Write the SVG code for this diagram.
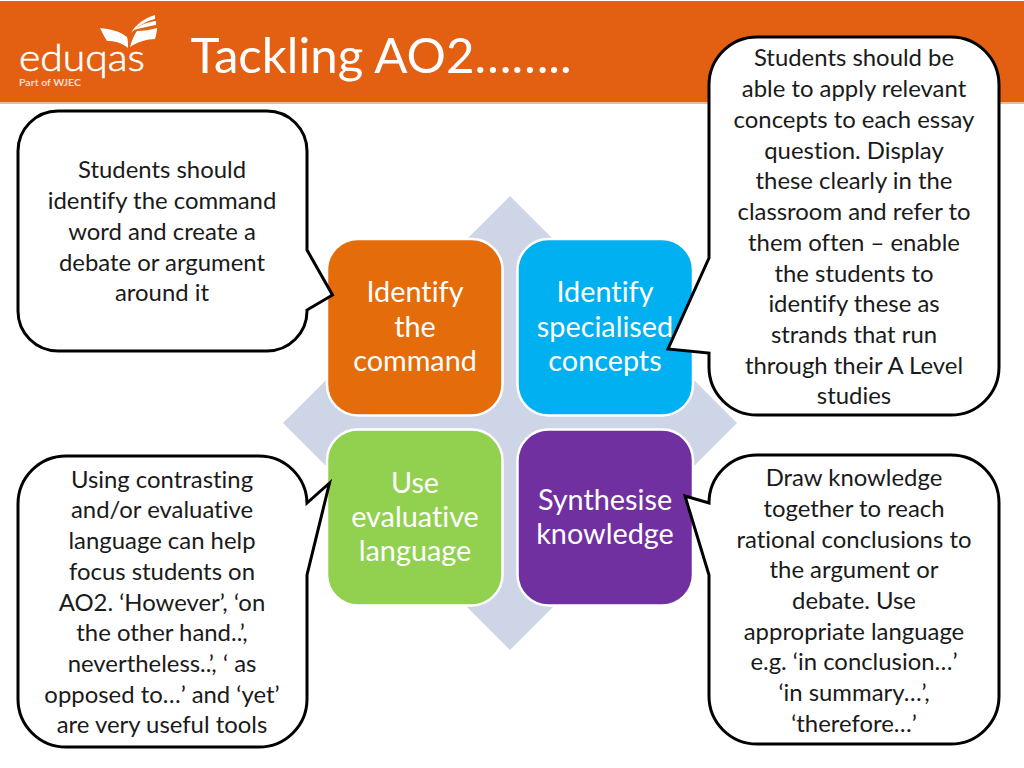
<svg xmlns="http://www.w3.org/2000/svg" width="1024" height="768" viewBox="0 0 1024 768">
<style>
text{font-family:Lato,"Liberation Sans",sans-serif;text-anchor:middle;font-variant-ligatures:none}
.c{fill:#fff;stroke:#000;stroke-width:3;stroke-linejoin:miter}
.ct{font-size:23.9px;fill:#1a1a1a}
.b{stroke:#fff;stroke-width:2.5}
.bt{font-size:28.800px;fill:#fff}
</style>
<rect width="1024" height="768" fill="#fff"/>
<g id="header">
<rect x="0" y="1" width="1024" height="101" fill="#e35f12"/>
<rect x="0" y="102" width="1024" height="2" fill="#e9b99a"/>
<text x="381" y="73" style="font-size:49.200px" fill="#fff">Tackling AO2……..</text>
</g>
<g id="logo" fill="#fff">
<path d="M100 28C110 29 120 31 127 37C128 40 128 44 128 48C121 42 114 41 107 41C104 36 102 32 100 28Z"/>
<path d="M130 47C132 40 134 35 137 31C143 31 151 30 157 28C157 32 156 35 155 39C147 39 137 42 130 47Z"/>
<path d="M131 33C136 24 145 18 155 15L155 19C146 21 138 26 131 33Z"/>
<path d="M134 30C140 25 147 22 156 21L156 25C149 26 141 28 134 30Z"/>
<text x="82" y="71" style="font-size:37px;font-weight:300" fill="#fff" stroke="#fff" stroke-width="0.6" textLength="126" lengthAdjust="spacingAndGlyphs">eduqas</text>
<text x="50" y="86" style="font-size:9px;font-weight:700" fill="#f9dcc8" textLength="62" lengthAdjust="spacingAndGlyphs">Part of WJEC</text>
</g>
<polygon id="diamond" points="510,196 737,423 510,650 283,423" fill="#cdd5e6"/>
<g id="identify-command">
<rect class="b" x="327" y="239" width="175.500" height="176.500" rx="31" fill="#e46c0a"/>
<text class="bt" x="415" y="302">Identify</text><text class="bt" x="415" y="337">the</text><text class="bt" x="415" y="371">command</text>
</g>
<g id="identify-concepts">
<rect class="b" x="517.500" y="239" width="175.500" height="176.500" rx="31" fill="#00b0f0"/>
<text class="bt" x="605" y="302">Identify</text><text class="bt" x="605" y="337">specialised</text><text class="bt" x="605" y="371">concepts</text>
</g>
<g id="use-language">
<rect class="b" x="327" y="429.500" width="175.500" height="176" rx="31" fill="#92d050"/>
<text class="bt" x="415" y="493">Use</text><text class="bt" x="415" y="527">evaluative</text><text class="bt" x="415" y="561">language</text>
</g>
<g id="synthesise">
<rect class="b" x="517.500" y="429.500" width="175.500" height="176" rx="31" fill="#7030a0"/>
<text class="bt" x="605" y="510">Synthesise</text><text class="bt" x="605" y="544">knowledge</text>
</g>
<g id="callout-top-left">
<path class="c" d="M58 111H267A40 40 0 0 1 307 151V250L332.500 295L307 310V311A40 40 0 0 1 267 351H58A40 40 0 0 1 18 311V151A40 40 0 0 1 58 111Z"/>
<g class="ct"><text x="162" y="178">Students should</text><text x="162" y="209">identify the command</text><text x="162" y="240">word and create a</text><text x="162" y="271">debate or argument</text><text x="162" y="301">around it</text></g>
</g>
<g id="callout-top-right">
<path class="c" d="M757 37H951A48 48 0 0 1 999 85V367A48 48 0 0 1 951 415H757A48 48 0 0 1 709 367V353L668 349L709 258V85A48 48 0 0 1 757 37Z"/>
<g class="ct"><text x="854" y="66">Students should be</text><text x="854" y="97">able to apply relevant</text><text x="854" y="128">concepts to each essay</text><text x="854" y="159">question. Display</text><text x="854" y="189">these clearly in the</text><text x="854" y="220">classroom and refer to</text><text x="854" y="251">them often – enable</text><text x="854" y="282">the students to</text><text x="854" y="312">identify these as</text><text x="854" y="343">strands that run</text><text x="854" y="374">through their A Level</text><text x="854" y="404">studies</text></g>
</g>
<g id="callout-bottom-left">
<path class="c" d="M66 456H259A48 48 0 0 1 307 503L329.500 483L307 575V699A48 48 0 0 1 259 747H66A48 48 0 0 1 18 699V504A48 48 0 0 1 66 456Z"/>
<g class="ct"><text x="162" y="488">Using contrasting</text><text x="162" y="518">and/or evaluative</text><text x="162" y="549">language can help</text><text x="162" y="580">focus students on</text><text x="162" y="611">AO2. ‘However’, ‘on</text><text x="162" y="641">the other hand..’,</text><text x="162" y="672">nevertheless..’, ‘ as</text><text x="162" y="703">opposed to…’ and ‘yet’</text><text x="162" y="733">are very useful tools</text></g>
</g>
<g id="callout-bottom-right">
<path class="c" d="M757 455H951A48 48 0 0 1 999 503V696A48 48 0 0 1 951 744H757A48 48 0 0 1 709 696V575L685 496L709 503A48 48 0 0 1 757 455Z"/>
<g class="ct"><text x="854" y="486">Draw knowledge</text><text x="854" y="517">together to reach</text><text x="854" y="548">rational conclusions to</text><text x="854" y="578">the argument or</text><text x="854" y="609">debate. Use</text><text x="854" y="640">appropriate language</text><text x="854" y="670">e.g. ‘in conclusion…’</text><text x="854" y="701">‘in summary…’,</text><text x="854" y="732">‘therefore…’</text></g>
</g>
<g id="connectors"/>
</svg>
